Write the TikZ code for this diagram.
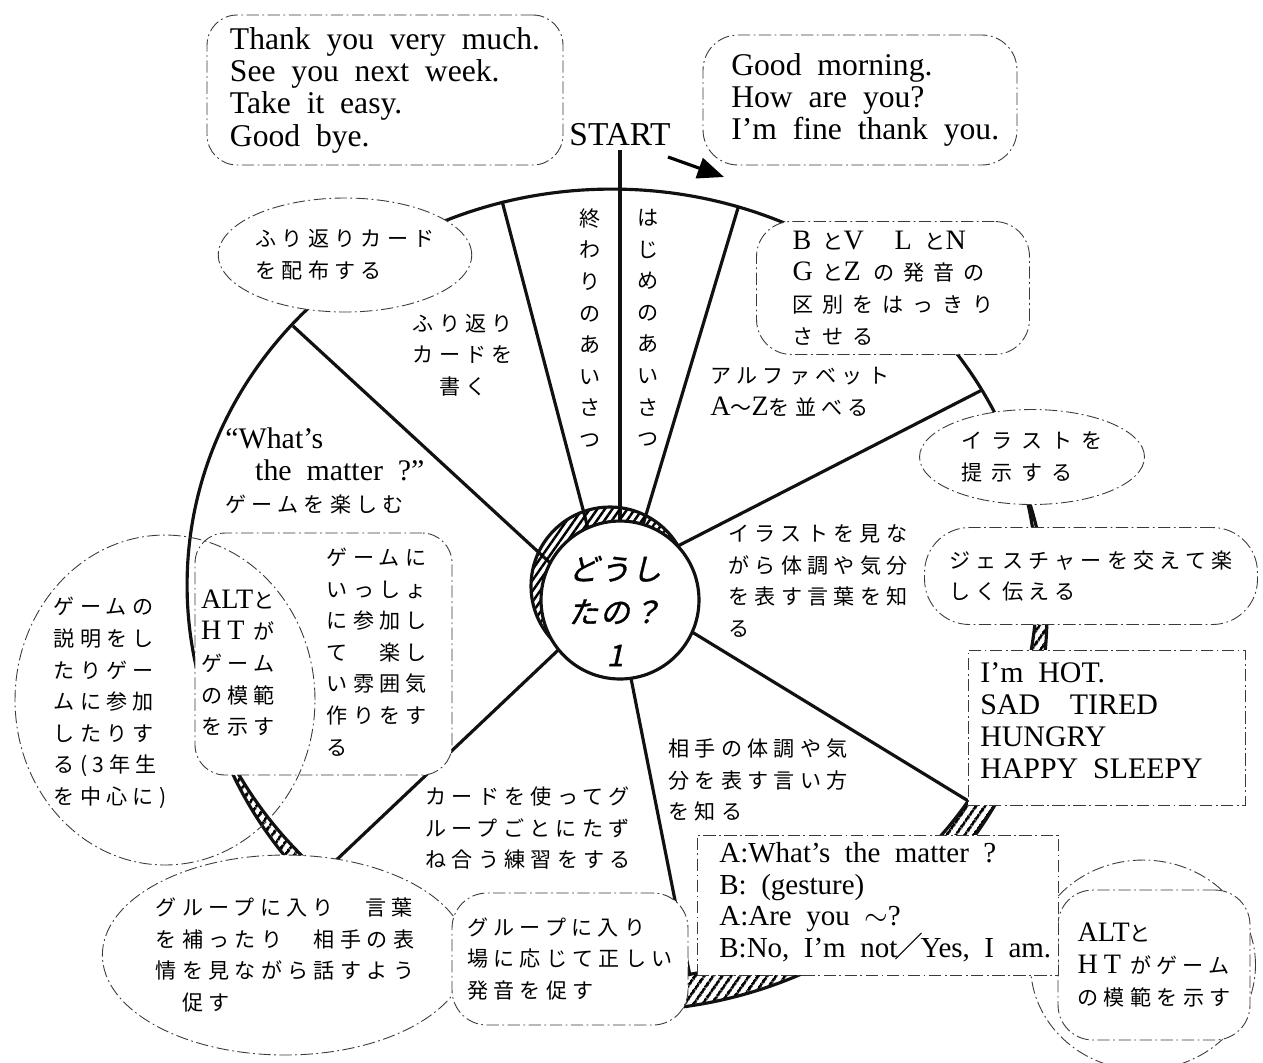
\documentclass[tikz,border=0pt]{standalone}
\usepackage{fontspec}
\usepackage{tikz}
\usetikzlibrary{shapes.geometric, arrows.meta, patterns.meta, calc}
\setmainfont{Liberation Serif}
\newfontfamily\jp[LetterSpace=25]{Noto Sans CJK JP}
\newfontfamily\jpwide[LetterSpace=42]{Noto Sans CJK JP}
\newfontfamily\jpplain{Noto Sans CJK JP}
\newfontfamily\jphub[FakeSlant=0.22,FakeBold=1.2,LetterSpace=6]{Noto Sans CJK JP}
\newfontfamily\eng[WordSpace=1.5]{Liberation Serif}
\newfontfamily\engtight[WordSpace=1.3]{Liberation Serif}
\newfontfamily\enggreet[WordSpace=2.0]{Liberation Serif}
\definecolor{inkblack}{HTML}{111111}
\definecolor{dashgray}{HTML}{3A3A3A}
\newcommand{\jpsize}{\jp\fontsize{12}{18}\selectfont}
\newcommand{\jpwidesize}{\jpwide\fontsize{12}{18}\selectfont}
\newcommand{\engsize}{\eng\fontsize{17}{18.2}\selectfont}
\newcommand{\greetsize}{\enggreet\fontsize{18}{18.4}\selectfont}
\newcommand{\hubsize}{\jphub\fontsize{17}{24.5}\selectfont}
\newcommand{\lat}[1]{{\eng\fontsize{16}{18}\selectfont #1}}
\newcommand{\wc}[2][1.25em]{\makebox[#1][l]{\lat{#2}}}

\begin{document}
\begin{tikzpicture}[x=0.02cm, y=-0.02cm]
    \tikzstyle{spoke} = [line width=1.8pt, draw=inkblack]
    \tikzstyle{rim} = [line width=1.8pt, draw=inkblack]
    \tikzstyle{hatch} = [rim, pattern={Lines[angle=55,distance=4pt,line width=1.7pt]}]
    \tikzstyle{bubble} = [draw=dashgray, fill=white, line width=0.5pt,
      dash pattern=on 7pt off 2pt on 1pt off 2pt, inner sep=0pt, align=left, font=\jpsize]
    \tikzstyle{greet} = [bubble, font=\greetsize]
    \tikzstyle{wedgetext} = [inner sep=0pt, align=left, font=\jpsize]
    \tikzstyle{engtext} = [inner sep=0pt, align=left, font=\engsize]

    \useasboundingbox (0,0) rectangle (1263,1062);

    % wheel with its shadow
    \draw[hatch] (622,615) ellipse [x radius=8.5cm, y radius=7.92cm];
    \draw[rim, fill=white] (612,585) ellipse [x radius=8.5cm, y radius=7.92cm];

    \node (hub) [circle, minimum size=3.16cm, inner sep=0pt] at (620,600) {};
    \node (start) [font=\eng\fontsize{19}{20}\selectfont, inner sep=2pt] at (620,135) {START};

    \coordinate (rimOpen)  at (738,208);
    \coordinate (rimClose) at (502,201);
    \coordinate (rimCard)  at (293,326);
    \coordinate (rimGroup) at (330,866);
    \coordinate (rimAsk)   at (690,976);
    \coordinate (rimShow)  at (970,802);
    \coordinate (rimAbc)   at (982,390);

    \draw[spoke] (hub.90) -- (start.south);
    \draw[spoke] (hub.73) -- (rimOpen);
    \draw[spoke] (hub.114) -- (rimClose);
    \draw[spoke] (hub.152) -- (rimCard);
    \draw[spoke] (hub.219) -- (rimGroup);
    \draw[spoke] (hub.278) -- (rimAsk);
    \draw[spoke] (hub.336) -- (rimShow);
    \draw[spoke] (hub.43) -- (rimAbc);

    % hub
    \draw[hatch, pattern={Lines[angle=55,distance=3.5pt,line width=1.4pt]}]
      ($(hub.center)+(-10,-14)$) circle [radius=1.58cm];
    \draw[rim, fill=white] (hub.center) circle [radius=1.58cm];
    \node (hubtext) [font=\hubsize, align=center] at (615,611) {どうし\\たの？\\1};

    \coordinate (arrS) at (668,157);
    \coordinate (arrE) at (724,177);
    \draw[-{Triangle[length=15pt,width=12pt]}, line width=1.8pt] (arrS) -- (arrE);

    % texts in the wedges
    \node (closing) [wedgetext, align=center] at (590,328) {終\\わ\\り\\の\\あ\\い\\さ\\つ};
    \node (opening) [wedgetext, align=center] at (648,328) {は\\じ\\め\\の\\あ\\い\\さ\\つ};
    \node (cardtext) [wedgetext, align=center] at (463,355) {ふり返り\\カードを\\書く};
    \node (abc) [wedgetext, anchor=west] at (710,392) {アルファベット\\\lat{A}～\lat{Z}を並べる};
    \node (look) [wedgetext, anchor=west] at (728,581) {イラストを見な\\がら体調や気分\\を表す言葉を知\\る};
    \node (partner) [wedgetext, anchor=west] at (668,780) {相手の体調や気\\分を表す言い方\\を知る};
    \node (practice) [wedgetext, anchor=west] at (425,828) {カードを使ってグ\\ループごとにたず\\ね合う練習をする};
    \node (matter) [engtext, anchor=west] at (225,471)
      {“What’s\\\hspace*{17pt}the matter ?”\\{\jpsize ゲームを楽しむ}};

    % support bubbles
    \node (grpA) [bubble, ellipse, minimum width=7cm, minimum height=4cm, align=left] at (285,955)
      {グループに入り　言葉\\を補ったり　相手の表\\情を見ながら話すよう\\　促す};
    \node (grpB) [bubble, rounded corners=0.7cm, minimum width=4.72cm, minimum height=2.64cm] at (570,959)
      {グループに入り\\場に応じて正しい\\発音を促す};
    \node (gameB) [bubble, rounded corners=0.6cm, minimum width=5.14cm, minimum height=4.84cm] at (323.5,654) {};
    \node (gameA) [bubble, ellipse, fill=none, minimum width=6cm, minimum height=6.6cm] at (165,700) {};
    \node (gameAtext) [wedgetext] at (110,703) {ゲームの\\説明をし\\たりゲー\\ムに参加\\したりす\\る(3年生\\を中心に)};
    \node (altLtext) [wedgetext] at (238,663) {\lat{ALT}と\\\wc{H}\wc{T}が\\ゲーム\\の模範\\を示す};
    \node (gameBtext) [wedgetext] at (377,652) {ゲームに\\いっしょ\\に参加し\\て　楽し\\い雰囲気\\作りをす\\る};

    \node (handout) [bubble, ellipse, minimum width=4.48cm, minimum height=2.28cm] at (345,255)
      {ふり返りカード\\を配布する};
    \node (pron) [bubble, font=\jpwidesize, rounded corners=0.7cm, minimum width=5.46cm, minimum height=2.66cm] at (893,288)
      {\wc[1.42em]{B}と\wc[1.42em]{V}　\wc[1.42em]{L}と\wc[1.42em]{N}\\\wc[1.42em]{G}と\wc[1.42em]{Z}の発音の\\区別をはっきり\\させる};
    \node (showpic) [bubble, font=\jpwidesize, ellipse, minimum width=4.5cm, minimum height=1.9cm] at (1032,457)
      {イラストを\\提示する};
    \node (gesture) [bubble, rounded corners=0.9cm, minimum width=6.66cm, minimum height=1.94cm] at (1091,576)
      {ジェスチャーを交えて楽\\しく伝える};
    \node (words) [bubble, minimum width=5.54cm, minimum height=3.1cm] at (1106.5,727.5) {};
    \node (wordstext) [engtext, anchor=west] at (980,721)
      {I’m HOT.\\SAD\ \ TIRED\\HUNGRY\\HAPPY SLEEPY};

    \node (altR) [bubble, ellipse, minimum width=4.5cm, minimum height=4.2cm] at (1143,965) {};
    \node (altRbox) [bubble, rounded corners=0.7cm, minimum width=3.84cm, minimum height=3cm] at (1154,965)
      {\lat{ALT}と\\\wc{H}\wc{T}がゲーム\\の模範を示す};

    \node (dialog) [bubble, minimum width=7.22cm, minimum height=2.8cm] at (877.5,905) {};
    \node (dialogtext) [engtext, font=\engtight\fontsize{16.5}{18}\selectfont, anchor=west] at (719,902)
      {A:What’s the matter ?\\B: (gesture)\\A:Are you $\sim$?\\B:No, I’m not\makebox[0.8em][c]{\jpplain ／}Yes, I am.};

    % greetings
    \node (thanks) [greet, rounded corners=0.6cm, minimum width=7.12cm, minimum height=3cm] at (385,90)
      {Thank you very much.\\See you next week.\\Take it easy.\\Good bye.};
    \node (morning) [greet, rounded corners=0.7cm, minimum width=6.28cm, minimum height=2.6cm] at (860,100)
      {\hspace*{6pt}Good morning.\\\hspace*{6pt}How are you?\\\hspace*{6pt}I’m fine thank you.};
\end{tikzpicture}
\end{document}
